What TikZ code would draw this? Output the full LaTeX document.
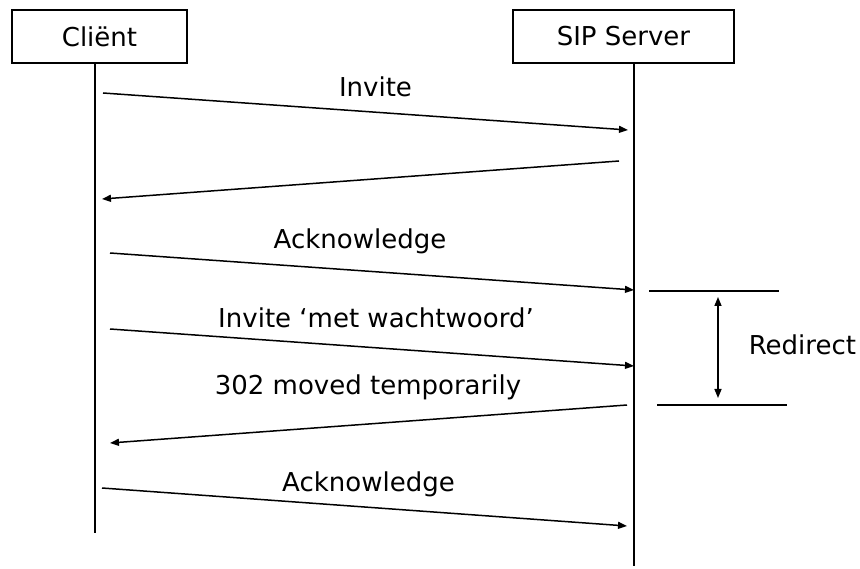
\documentclass[tikz,border=0pt]{standalone}
\usepackage{fontspec}
\setmainfont{DejaVu Sans}
\usetikzlibrary{arrows.meta}
\begin{document}
\begin{tikzpicture}[x=1pt,y=-1pt,
  line width=1.5pt,
  actor/.style={draw, minimum height=53pt, inner sep=0pt, font=\fontsize{26}{30}\selectfont},
  msg/.style={-{Triangle[length=9pt,width=7pt]}},
  lbl/.style={font=\fontsize{26}{30}\selectfont, inner sep=0pt, anchor=base},
  life/.style={line width=1.5pt}]
\useasboundingbox (0,0) rectangle (860,569);
\node[actor, minimum width=175pt] (client) at (99.5,36.5) {Cliënt};
\node[actor, minimum width=221pt] (server) at (623.5,36.5) {SIP Server};
\coordinate (cend) at (95,533);
\coordinate (send) at (634,566);
\draw[life] (client.south -| cend) -- (cend);
\draw[life] (server.south -| send) -- (send);
% messages
\coordinate (a1) at (103,93);  \coordinate (b1) at (628,130);
\coordinate (a2) at (619,161); \coordinate (b2) at (102,199);
\coordinate (a3) at (110,253); \coordinate (b3) at (634,290);
\coordinate (a4) at (110,329); \coordinate (b4) at (634,366);
\coordinate (a5) at (627,405); \coordinate (b5) at (110,443);
\coordinate (a6) at (102,488); \coordinate (b6) at (627,526);
\draw[msg] (a1) -- (b1);
\draw[msg] (a2) -- (b2);
\draw[msg] (a3) -- (b3);
\draw[msg] (a4) -- (b4);
\draw[msg] (a5) -- (b5);
\draw[msg] (a6) -- (b6);
\node[lbl] (l1) at (375.5,97) {Invite};
\node[lbl] (l3) at (360,249) {Acknowledge};
\node[lbl] (l4) at (376,328) {Invite ‘met wachtwoord’};
\node[lbl] (l5) at (368,395) {302 moved temporarily};
\node[lbl] (l6) at (368.5,491) {Acknowledge};
% redirect
\coordinate (r1a) at (649,291); \coordinate (r1b) at (779,291);
\coordinate (r2a) at (657,405); \coordinate (r2b) at (787,405);
\coordinate (d1) at (718,297); \coordinate (d2) at (718,398);
\draw (r1a) -- (r1b);
\draw (r2a) -- (r2b);
\draw[{Triangle[length=9pt,width=7pt]}-{Triangle[length=9pt,width=7pt]}] (d1) -- (d2);
\node[lbl, anchor=base west] (red) at (748,355) {Redirect};
\end{tikzpicture}
\end{document}
